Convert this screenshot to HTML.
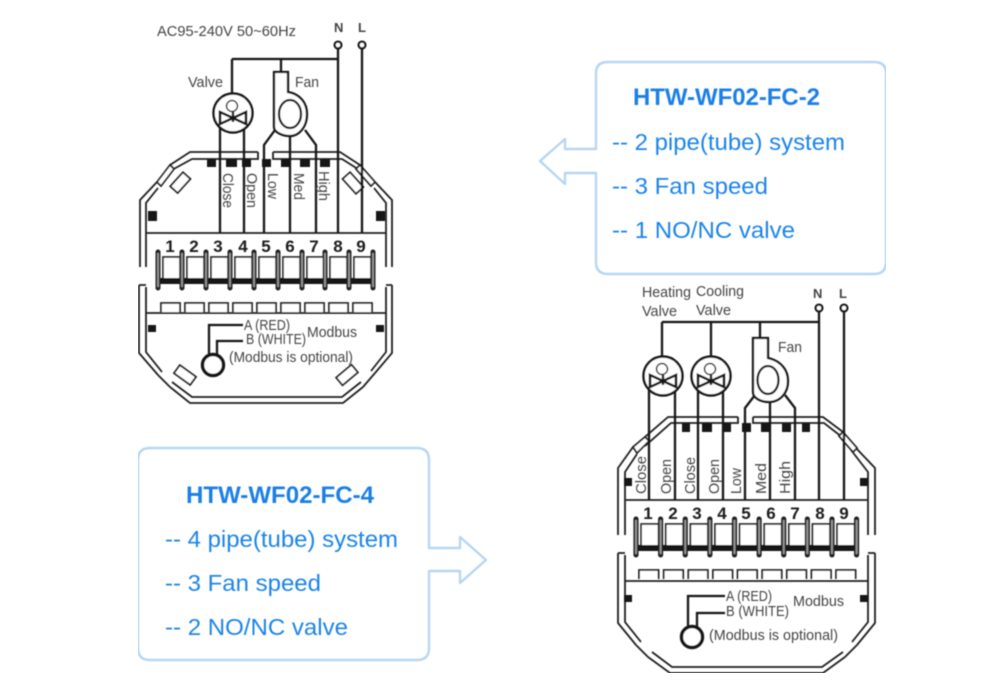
<!DOCTYPE html>
<html><head><meta charset="utf-8"><style>
html,body{margin:0;padding:0;background:#fff}
svg{display:block}
.w{fill:none;stroke:#141414;stroke-width:2.3}
.o{fill:none;stroke:#222;stroke-width:1.8}
.k{fill:#141414;stroke:none}
.t{font-family:"Liberation Sans",sans-serif;fill:#444;font-size:14.5px}
.n{font-family:"Liberation Sans",sans-serif;fill:#1c1c1c;font-size:17px;font-weight:bold;text-anchor:middle}
.b{font-family:"Liberation Sans",sans-serif;fill:#1f84e8;font-size:23px}
.h{font-family:"Liberation Sans",sans-serif;fill:#1a7fe6;font-size:24px;font-weight:bold}
.box{fill:none;stroke:#b7d6f2;stroke-width:2.4;stroke-linejoin:round}
</style></head><body>
<svg width="1000" height="700" viewBox="0 0 1000 700" xmlns="http://www.w3.org/2000/svg">
<defs>
<filter id="s" x="0" y="0" width="1" height="1"><feGaussianBlur stdDeviation="0.45"/></filter>
<g id="valve">
<circle cx="0" cy="0" r="19.5" fill="#fff" stroke="#141414" stroke-width="2.5"/>
<circle cx="-1" cy="-7" r="5.5" fill="none" stroke="#333" stroke-width="1.5"/>
<path d="M-13,-1L0,5L-13,11ZM13,-1L0,5L13,11Z" fill="#fff" stroke="#141414" stroke-width="2.6"/>
<path d="M0,-1V9" stroke="#141414" stroke-width="2.4"/>
</g>
<g id="blk">
<g fill="#fff" stroke="#222" stroke-width="1.7">
<rect x="5" y="6" width="17" height="24"/><rect x="29" y="6" width="17" height="24"/><rect x="53" y="6" width="17" height="24"/><rect x="77" y="6" width="17" height="24"/><rect x="101" y="6" width="17" height="24"/><rect x="125" y="6" width="17" height="24"/><rect x="149" y="6" width="17" height="24"/><rect x="172" y="6" width="17" height="24"/><rect x="196" y="6" width="17" height="24"/>
</g>
<rect x="0" y="27" width="215" height="6" fill="#141414"/>
<g stroke="#222" stroke-width="5" stroke-linecap="round">
<path d="M0,1V37M24,1V37M48,1V37M72,1V37M96,1V37M120,1V37M144,1V37M167,1V37M191,1V37M215,1V37"/>
</g>
<g stroke="#999" stroke-width="1.8">
<path d="M0,2V36M24,2V36M48,2V36M72,2V36M96,2V36M120,2V36M144,2V36M167,2V36M191,2V36M215,2V36"/>
</g>
<g fill="#fff" stroke="#222" stroke-width="1.8">
<path d="M3,61V52H22V61M27,61V52H46V61M51,61V52H70V61M75,61V52H94V61M99,61V52H118V61M123,61V52H142V61M147,61V52H166V61M171,61V52H190V61M195,61V52H214V61"/>
</g>
</g>
</defs>

<g filter="url(#s)">
<!-- Diagram 1 -->
<g class="o">
<path d="M140,267V200L157,182M170,165L190,152H258M273,152H340L360,165M375,182L392,200V267"/>
<path d="M146,267V203L158,188M170,171L192,159H258V152M273,152V159H342L361,171M374,188L386,203V267"/>
<path d="M157,182L170,165L174,169L161,186ZM360,165L375,182L371,186L356,169Z" fill="#fff"/>
<path d="M146,233H386"/>
<path d="M139,285V353L158,375M170,387L190,403H343L363,387M375,373L392,353V285"/>
<path d="M146,287V352L162,372M172,382L192,397H342L361,382M371,371L386,352V287"/>
<path d="M146,313H386M139,285H146M386,285H392"/>
<path d="M158,375L170,387M363,387L375,373"/>
</g>
<g class="k">
<rect x="207" y="159" width="9" height="8"/><rect x="226" y="159" width="11" height="8"/><rect x="242" y="159" width="9" height="8"/><rect x="262" y="159" width="9" height="8"/><rect x="281" y="159" width="9" height="8"/><rect x="300" y="159" width="10" height="8"/><rect x="320" y="159" width="10" height="8"/>
<rect x="148" y="211" width="9" height="10"/><rect x="376" y="211" width="9" height="10"/>
<rect x="148" y="325" width="8" height="7"/><rect x="376" y="325" width="8" height="7"/>
</g>
<g fill="#fff" stroke="#222" stroke-width="1.8">
<rect x="171" y="178" width="19" height="10" transform="rotate(-48 180 183)"/>
<rect x="343" y="178" width="20" height="10" transform="rotate(48 353 183)"/>
<rect x="175" y="370" width="20" height="10" transform="rotate(36 185 375)"/>
<rect x="337" y="370" width="20" height="10" transform="rotate(-40 347 375)"/>
</g>
<g class="w">
<path d="M232,59H338M232,59V94M281,59V72M338,48V233M362,48V233"/>
<path d="M220,125V233M244,125V233M290,134V233M264,233V145L275,130M316,233V145L305,130"/>
<path d="M274,127V72H288V92C300,94 307,103 307,114C307,127 299,136 290,136C282,136 274,132 274,127Z" fill="#fff"/>
<ellipse cx="290" cy="114" rx="11" ry="14"/>
<circle cx="338" cy="45" r="3.4" fill="#fff"/><circle cx="362" cy="45" r="3.4" fill="#fff"/>
<path d="M209,355V325H243M217,355V341H243"/>
<circle cx="213" cy="365" r="10.5" fill="#fff" stroke-width="3.4"/>
</g>
<use href="#valve" x="233" y="113"/>
<use href="#blk" x="158" y="251"/>

<text class="t" x="157" y="36" textLength="139" lengthAdjust="spacingAndGlyphs">AC95-240V  50~60Hz</text>
<text class="t" x="334" y="32" style="font-weight:bold;font-size:13px">N</text>
<text class="t" x="358" y="32" style="font-weight:bold;font-size:13px">L</text>
<text class="t" x="188" y="87" textLength="35" lengthAdjust="spacingAndGlyphs">Valve</text>
<text class="t" x="295" y="87" textLength="24" lengthAdjust="spacingAndGlyphs">Fan</text>
<g class="t">
<text transform="translate(223,173) rotate(90)" textLength="35" lengthAdjust="spacingAndGlyphs">Close</text>
<text transform="translate(247,173) rotate(90)" textLength="35" lengthAdjust="spacingAndGlyphs">Open</text>
<text transform="translate(268,173) rotate(90)" textLength="26" lengthAdjust="spacingAndGlyphs">Low</text>
<text transform="translate(294,173) rotate(90)" textLength="27" lengthAdjust="spacingAndGlyphs">Med</text>
<text transform="translate(319,171) rotate(90)" textLength="30" lengthAdjust="spacingAndGlyphs">High</text>
</g>
<g class="n">
<text x="170" y="252">1</text><text x="194" y="252">2</text><text x="218" y="252">3</text><text x="243" y="252">4</text><text x="266" y="252">5</text><text x="290" y="252">6</text><text x="314" y="252">7</text><text x="338" y="252">8</text><text x="361" y="252">9</text>
</g>
<text class="t" x="244" y="330" textLength="46" lengthAdjust="spacingAndGlyphs">A (RED)</text>
<text class="t" x="246" y="344" textLength="60" lengthAdjust="spacingAndGlyphs">B (WHITE)</text>
<text class="t" x="307" y="337" textLength="50" lengthAdjust="spacingAndGlyphs">Modbus</text>
<text class="t" x="229" y="362" textLength="124" lengthAdjust="spacingAndGlyphs">(Modbus is optional)</text>

<!-- Diagram 2 -->
<g class="o">
<path d="M618,535V468L633,447M638,443L668,417H738M753,417H823L843,432M855,447L875,468V535"/>
<path d="M625,535V472L637,454M645,446L671,423H738V417M753,417V423H824L842,437M851,450L868,472V535"/>
<path d="M633,447L645,437L649,441L637,453ZM843,432L857,448L853,452L839,436Z" fill="#fff"/>
<path d="M625,500H868"/>
<path d="M618,553V623L636,645M648,657L670,673H823L845,657M857,645L875,623V553"/>
<path d="M625,555V622L641,642M652,652L672,667H822L843,652M852,642L868,622V555"/>
<path d="M625,581H868M618,553H625M868,553H875"/>
<path d="M636,645L648,657M845,657L857,645"/>
</g>
<g class="k">
<rect x="682" y="423" width="8" height="9"/><rect x="702" y="423" width="10" height="9"/><rect x="723" y="423" width="8" height="9"/><rect x="742" y="423" width="9" height="9"/><rect x="761" y="423" width="9" height="9"/><rect x="782" y="423" width="9" height="9"/><rect x="802" y="423" width="8" height="9"/>
<rect x="624" y="478" width="8" height="8"/><rect x="860" y="478" width="8" height="8"/>
<rect x="624" y="595" width="8" height="7"/><rect x="860" y="595" width="8" height="7"/>
</g>
<g class="w">
<path d="M662,322H819M662,322V357M711,322V357M760,322V338M819,311V500M844,311V500"/>
<path d="M649,390V500M675,390V500M698,390V500M723,390V500M770,402V500M745,500V408L755,395M795,500V408L785,395"/>
<path d="M753,392V338H768V358C781,361 788,370 788,381C788,394 779,402 769,402C761,402 753,398 753,392Z" fill="#fff"/>
<ellipse cx="768" cy="380" rx="10.5" ry="14"/>
<circle cx="819" cy="308" r="3.4" fill="#fff"/><circle cx="844" cy="308" r="3.4" fill="#fff"/>
<path d="M688,626V596H725M697,627V613H725"/>
<circle cx="692" cy="637" r="10.5" fill="#fff" stroke-width="3.4"/>
</g>
<use href="#valve" x="663" y="376"/>
<use href="#valve" x="711" y="376"/>
<use href="#blk" x="636" y="518" transform="translate(636 518) scale(1.026 1) translate(-636 -518)"/>

<text class="t" x="642" y="297" textLength="49" lengthAdjust="spacingAndGlyphs">Heating</text>
<text class="t" x="696" y="296" textLength="48" lengthAdjust="spacingAndGlyphs">Cooling</text>
<text class="t" x="642" y="316" textLength="35" lengthAdjust="spacingAndGlyphs">Valve</text>
<text class="t" x="696" y="315" textLength="35" lengthAdjust="spacingAndGlyphs">Valve</text>
<text class="t" x="778" y="352" textLength="24" lengthAdjust="spacingAndGlyphs">Fan</text>
<text class="t" x="813" y="298" style="font-weight:bold;font-size:13px">N</text>
<text class="t" x="839" y="298" style="font-weight:bold;font-size:13px">L</text>
<g class="t">
<text transform="translate(646,494) rotate(-90)" textLength="38" lengthAdjust="spacingAndGlyphs">Close</text>
<text transform="translate(671,494) rotate(-90)" textLength="35" lengthAdjust="spacingAndGlyphs">Open</text>
<text transform="translate(695,494) rotate(-90)" textLength="37" lengthAdjust="spacingAndGlyphs">Close</text>
<text transform="translate(719,494) rotate(-90)" textLength="35" lengthAdjust="spacingAndGlyphs">Open</text>
<text transform="translate(741,494) rotate(-90)" textLength="26" lengthAdjust="spacingAndGlyphs">Low</text>
<text transform="translate(766,494) rotate(-90)" textLength="31" lengthAdjust="spacingAndGlyphs">Med</text>
<text transform="translate(790,494) rotate(-90)" textLength="33" lengthAdjust="spacingAndGlyphs">High</text>
</g>
<g class="n">
<text x="648" y="519">1</text><text x="673" y="519">2</text><text x="697" y="519">3</text><text x="722" y="519">4</text><text x="746" y="519">5</text><text x="771" y="519">6</text><text x="795" y="519">7</text><text x="820" y="519">8</text><text x="844" y="519">9</text>
</g>
<text class="t" x="726" y="601" textLength="46" lengthAdjust="spacingAndGlyphs">A (RED)</text>
<text class="t" x="726" y="616" textLength="63" lengthAdjust="spacingAndGlyphs">B (WHITE)</text>
<text class="t" x="793" y="606" textLength="51" lengthAdjust="spacingAndGlyphs">Modbus</text>
<text class="t" x="709" y="640" textLength="129" lengthAdjust="spacingAndGlyphs">(Modbus is optional)</text>

<!-- Callout boxes -->
<path class="box" d="M596,149H565V139L540,161L565,184V173H596V262Q596,274 608,274H874Q886,274 886,262V73Q886,62 874,62H608Q596,62 596,73Z"/>
<path class="box" d="M429,548H460V537L486,560L460,583V571H429V648Q429,660 417,660H150Q138,660 138,648V460Q138,448 150,448H417Q429,448 429,460Z"/>

<text class="h" x="633" y="105" textLength="187" lengthAdjust="spacingAndGlyphs">HTW-WF02-FC-2</text>
<text class="b" x="612" y="150" textLength="233" lengthAdjust="spacingAndGlyphs">-- 2 pipe(tube) system</text>
<text class="b" x="612" y="194" textLength="156" lengthAdjust="spacingAndGlyphs">-- 3 Fan speed</text>
<text class="b" x="612" y="238" textLength="183" lengthAdjust="spacingAndGlyphs">-- 1 NO/NC valve</text>

<text class="h" x="186" y="503" textLength="188" lengthAdjust="spacingAndGlyphs">HTW-WF02-FC-4</text>
<text class="b" x="165" y="547" textLength="233" lengthAdjust="spacingAndGlyphs">-- 4 pipe(tube) system</text>
<text class="b" x="165" y="591" textLength="156" lengthAdjust="spacingAndGlyphs">-- 3 Fan speed</text>
<text class="b" x="165" y="635" textLength="183" lengthAdjust="spacingAndGlyphs">-- 2 NO/NC valve</text>
</g>
</svg>
</body></html>
